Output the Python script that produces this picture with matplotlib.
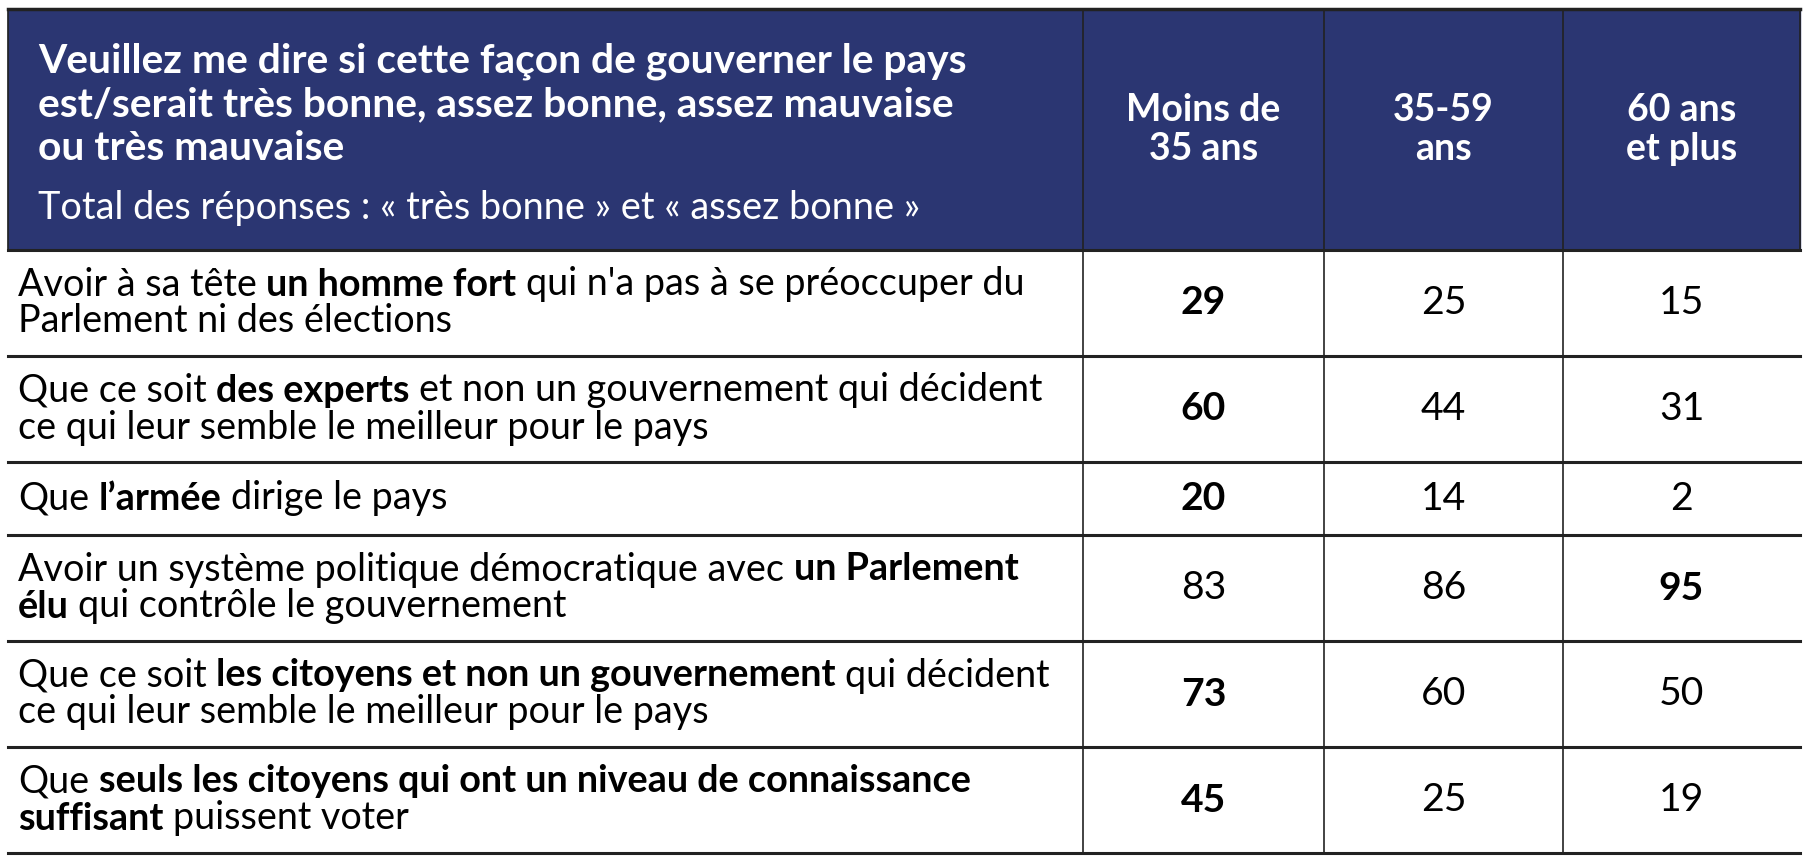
import matplotlib
matplotlib.use("Agg")
import matplotlib.pyplot as plt

# ---- data ----
title_lines = ["Veuillez me dire si cette façon de gouverner le pays",
               "est/serait très bonne, assez bonne, assez mauvaise",
               "ou très mauvaise"]
subtitle = "Total des réponses : « très bonne » et « assez bonne »"
columns = ["Moins de\n35 ans", "35-59\nans", "60 ans\net plus"]

# ** marks the bold parts (may span a line break)
items = [
    "Avoir à sa tête **un homme fort** qui n'a pas à se préoccuper du\nParlement ni des élections",
    "Que ce soit **des experts** et non un gouvernement qui décident\nce qui leur semble le meilleur pour le pays",
    "Que **l’armée** dirige le pays",
    "Avoir un système politique démocratique avec **un Parlement\nélu** qui contrôle le gouvernement",
    "Que ce soit **les citoyens et non un gouvernement** qui décident\nce qui leur semble le meilleur pour le pays",
    "Que **seuls les citoyens qui ont un niveau de connaissance\nsuffisant** puissent voter",
]
moins_35 = [29, 60, 20, 83, 73, 45]
de_35_59 = [25, 44, 14, 86, 60, 25]
plus_60 = [15, 31, 2, 95, 50, 19]
# index of the column shown in bold for each row
bold_col = [0, 0, 0, 2, 0, 0]

# ---- style ----
W, H = 1804, 868
FONT = "Lato"
NAVY = "#2b3672"
BODY_SIZE = 27.2
col_edges = [8, 1083, 1324, 1563, 1800]
top, header_h = 9, 241
line_h = 37

fig = plt.figure(figsize=(W / 100, H / 100), dpi=100)
ax = fig.add_axes([0, 0, 1, 1])
ax.set_xlim(0, W)
ax.set_ylim(H, 0)
ax.axis("off")
renderer = fig.canvas.get_renderer()


def text_width(s, weight):
    t = ax.text(0, 0, s, fontsize=BODY_SIZE, family=FONT, weight=weight)
    w = t.get_window_extent(renderer).width
    t.remove()
    return w


space_w = text_width("a a", "normal") - text_width("aa", "normal")


def draw_rich(x, y, line, bold):
    for k, piece in enumerate(line.split("**")):
        if k > 0:
            bold = not bold
        if not piece:
            continue
        weight = "bold" if bold else "normal"
        lead = len(piece) - len(piece.lstrip(" "))
        trail = len(piece) - len(piece.rstrip(" "))
        core = piece.strip(" ")
        x += lead * space_w
        t = ax.text(x, y, core, fontsize=BODY_SIZE, family=FONT, weight=weight,
                    va="center", ha="left", color="black")
        x += t.get_window_extent(renderer).width + trail * space_w
    return bold


# header
header_bottom = top + header_h
ax.fill_between([col_edges[0], col_edges[-1]], top, header_bottom, color=NAVY, zorder=0)
for i, line in enumerate(title_lines):
    ax.text(38, 61 + i * 43.5, line, fontsize=29.3, family=FONT, weight="bold",
            color="white", va="center")
ax.text(38, 208, subtitle, fontsize=27.3, family=FONT, color="white", va="center")
for j, name in enumerate(columns):
    cx = (col_edges[j + 1] + col_edges[j + 2]) / 2
    ax.text(cx, (top + header_bottom) / 2, name, fontsize=27, family=FONT, weight="bold",
            color="white", ha="center", va="center", linespacing=1.2)

# body rows
values = list(zip(moins_35, de_35_59, plus_60))
y = header_bottom
row_lines = [y]
for i, item in enumerate(items):
    lines = item.split("\n")
    h = 106 if len(lines) > 1 else 73
    cy = y + h / 2
    bold = False
    for k, line in enumerate(lines):
        bold = draw_rich(18, cy + (k - (len(lines) - 1) / 2) * line_h, line, bold)
    for j, v in enumerate(values[i]):
        cx = (col_edges[j + 1] + col_edges[j + 2]) / 2
        ax.text(cx, cy, str(v), fontsize=BODY_SIZE + 1, family=FONT,
                weight="bold" if bold_col[i] == j else "normal",
                ha="center", va="center", color="black")
    y += h
    row_lines.append(y)

# grid lines
ax.plot([col_edges[0], col_edges[-1]], [top, top], color="#222222", lw=2.5, zorder=3)
for yy in row_lines:
    ax.plot([col_edges[0], col_edges[-1]], [yy, yy], color="#222222", lw=2.2, zorder=3)
for xx in col_edges[1:-1]:
    ax.plot([xx, xx], [top, row_lines[-1]], color="#222222", lw=1.2, zorder=3)
ax.plot([col_edges[0], col_edges[0]], [top, header_bottom], color="#222222", lw=1.2, zorder=3)
ax.plot([col_edges[-1], col_edges[-1]], [top, header_bottom], color="#222222", lw=1.2, zorder=3)

fig.savefig("out.png", dpi=100)
